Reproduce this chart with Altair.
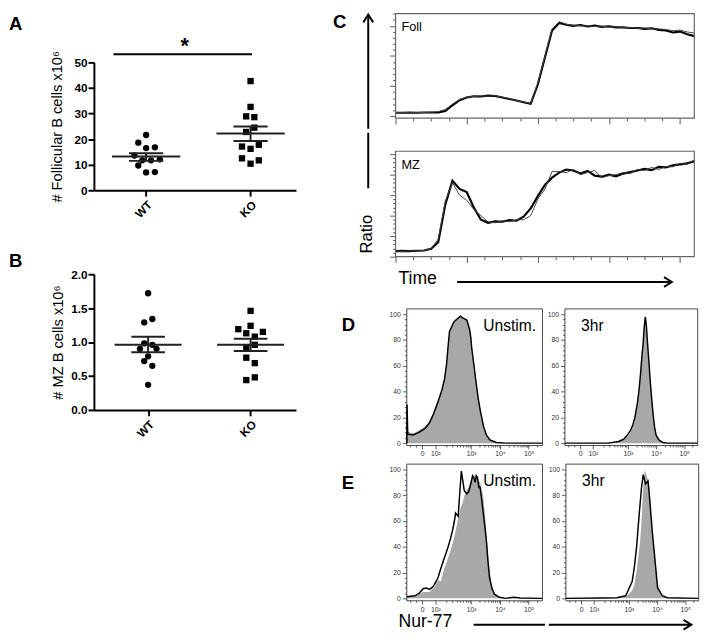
import altair as alt
import pandas as pd

FONT = "Liberation Sans"

GROUPS = ["WT", "KO"]

A_WT = [21.6, 18.6, 16.5, 16.8, 13.6, 11.7, 11.7, 12.1, 9.7, 7.0, 7.1]
A_WT_JITTER = [0, -0.075, 0, 0.084, -0.112, -0.037, 0.047, 0.131, -0.075, 0, 0.084]
A_KO = [42.7, 32.6, 28.9, 28.6, 24.5, 22.8, 17.1, 16.2, 17.8, 12.5, 10.4, 11.7]
A_KO_JITTER = [0, 0, -0.042, 0.036, 0.036, -0.042, -0.082, 0, 0.079, -0.082, 0, 0.079]
A_MEAN = [13.2, 22.2]
A_SEM_LO = [11.5, 19.3]
A_SEM_HI = [14.5, 24.9]

B_WT = [1.72, 1.29, 1.34, 0.98, 0.96, 0.90, 0.90, 0.79, 0.72, 0.65, 0.37]
B_WT_JITTER = [0, -0.038, 0.041, -0.038, 0.041, -0.08, 0.082, 0, -0.038, 0.041, 0]
B_KO = [1.46, 1.24, 1.19, 1.13, 1.15, 1.08, 0.96, 0.91, 0.77, 0.69, 0.44, 0.48]
B_KO_JITTER = [0, 0, -0.12, -0.042, 0.12, 0.041, 0.041, -0.042, -0.042, 0.041, -0.042, 0.041]
B_MEAN = [0.96, 0.96]
B_SEM_LO = [0.85, 0.87]
B_SEM_HI = [1.08, 1.05]

A_SIG = [0.687, 2.014, 53.2]
A_STAR_X = 1.37

C_TIME = [0, 2, 4, 6, 8, 10, 12, 14, 16, 18, 20, 22, 24, 26, 28, 30, 32, 34, 36, 38,
          40, 42, 44, 46, 48, 50, 52, 54, 56, 58, 60, 62, 64, 66, 68, 70, 72, 74, 76,
          78, 80, 82, 84]
FOLL_THICK = [.11, .11, .12, .11, .12, .12, .12, .17, .36, .53, .62, .66, .65, .68, .67,
              .62, .57, .52, .46, .41, 1.05, 1.95, 2.85, 3.1, 3.04, 3.0, 3.03, 2.98, 3.01,
              2.97, 2.99, 2.95, 2.95, 2.93, 2.93, 2.9, 2.92, 2.87, 2.85, 2.78, 2.81, 2.72, 2.66]
FOLL_THIN = [.12, .12, .11, .12, .12, .13, .15, .22, .40, .55, .63, .65, .67, .66, .68,
             .63, .58, .51, .47, .42, 1.1, 2.0, 2.9, 3.14, 3.06, 3.02, 3.0, 3.0, 2.98,
             2.99, 2.96, 2.97, 2.94, 2.95, 2.92, 2.93, 2.9, 2.9, 2.88, 2.84, 2.86, 2.8, 2.76]
MZ_THICK = [.27, .28, .27, .29, .30, .38, .70, 2.55, 3.7, 3.3, 3.15, 2.4, 1.8, 1.65, 1.72,
            1.7, 1.78, 1.75, 1.95, 2.35, 2.95, 3.5, 3.85, 4.1, 4.25, 4.2, 4.05, 4.18, 3.95,
            3.9, 4.0, 3.92, 4.05, 4.12, 4.2, 4.28, 4.22, 4.38, 4.35, 4.45, 4.5, 4.55, 4.65]
MZ_THIN = [.27, .27, .28, .28, .29, .40, .85, 2.7, 3.6, 3.0, 2.75, 2.3, 2.0, 1.7, 1.65,
           1.75, 1.7, 1.8, 1.8, 2.0, 2.8, 3.3, 4.15, 4.15, 4.1, 4.25, 4.0, 4.1, 4.2,
           3.85, 3.95, 4.0, 4.1, 4.05, 4.25, 4.2, 4.35, 4.25, 4.4, 4.38, 4.55, 4.5, 4.72]

D1_U = [0.77, 0.775, 0.80, 0.99, 1.2, 1.39, 1.55, 1.67, 1.85, 1.99, 2.08, 2.15, 2.2, 2.25,
        2.4, 2.55, 2.63, 2.72, 2.85, 2.95, 2.99, 3.02, 3.1, 3.16, 3.25, 3.33, 3.43, 3.53,
        3.65, 3.87, 4.2, 5.46]
D1_BLACK = [0, 30, 7, 6.3, 8.5, 11.3, 15.5, 21.3, 32, 41.5, 50, 61.6, 75, 86.7, 94, 97, 98.5,
            97, 95.5, 88, 81.6, 74, 60, 49, 34, 23.9, 13, 6.3, 2.5, 0.5, 0, 0]
D1_GRAY = [0, 28, 9, 7.5, 10, 12.5, 17, 22.5, 33, 43, 52, 63, 76, 87, 94.5, 97.5, 99, 97, 96,
           89, 83, 75, 61, 50, 35, 25, 14, 7, 3, 0.8, 0, 0]

D2_U = [0.77, 2.3, 2.67, 2.85, 3.0, 3.1, 3.17, 3.25, 3.34, 3.4, 3.45, 3.5, 3.54, 3.58, 3.62,
        3.66, 3.7, 3.75, 3.79, 3.85, 3.9, 3.95, 4.0, 4.1, 4.24, 4.4, 5.46]
D2_BLACK = [0, 0, 1.3, 3, 6.8, 10, 13.8, 20, 31.4, 42, 54, 68, 76.7, 90, 98, 90, 76.7, 62, 49,
            33, 21.3, 12, 6.3, 2.5, 0.5, 0, 0]
D2_GRAY = [0, 0, 1, 2.5, 5.5, 8.5, 12, 18, 29, 40, 52, 66, 76, 89, 97, 91, 77, 63, 50, 34, 22,
           13, 7, 3, 0.8, 0, 0]

E1_BLACK_U = [0.76, 1.05, 1.2, 1.33, 1.45, 1.56, 1.65, 1.73, 1.85, 1.95, 2.05, 2.18, 2.28,
              2.35, 2.42, 2.46, 2.55, 2.6, 2.66, 2.72, 2.76, 2.85, 2.91, 2.98, 3.05, 3.1,
              3.14, 3.18, 3.22, 3.27, 3.31, 3.37, 3.42, 3.48, 3.53, 3.58, 3.64, 3.72, 3.81,
              3.98, 4.2, 4.5, 4.7, 5.46]
E1_BLACK = [1.3, 2, 4, 7.5, 8, 7, 8.5, 10.8, 16, 23.4, 30, 38.4, 46, 52.2, 60, 66.1, 63.6, 80,
            98.7, 90, 83.7, 81, 82.4, 88, 95, 93, 90, 95, 93.7, 86, 86.2, 76, 66.1, 55, 44.7,
            30, 15.8, 8, 3.2, 0.8, 0, 0.8, 0.3, 0]
E1_GRAY_U = [0.76, 1.05, 1.33, 1.56, 1.73, 1.85, 1.95, 2.05, 2.18, 2.28, 2.35, 2.46, 2.55,
             2.63, 2.69, 2.76, 2.85, 2.91, 3.0, 3.05, 3.14, 3.22, 3.31, 3.37, 3.42, 3.48,
             3.53, 3.58, 3.64, 3.72, 3.81, 3.98, 4.2, 5.46]
E1_GRAY = [1, 1.5, 5, 5, 9, 14, 13, 22, 30, 37, 42, 52, 62, 70, 73, 79, 84, 86, 92, 94, 96, 92,
           90, 84, 79, 65, 50, 36, 22, 10, 4, 1, 0, 0]

E2_BLACK_U = [0.76, 2.0, 2.57, 2.89, 3.12, 3.2, 3.28, 3.34, 3.4, 3.45, 3.51, 3.59, 3.68, 3.72,
              3.77, 3.83, 3.9, 4.02, 4.19, 4.36, 5.46]
E2_BLACK = [0, 0.3, 0.5, 2, 13.3, 25, 41, 58, 73.6, 86, 96, 88.7, 91, 82, 68.6, 52, 36, 8.3,
            2, 0.5, 0]
E2_GRAY_U = [0.76, 2.57, 2.89, 3.12, 3.2, 3.28, 3.34, 3.4, 3.45, 3.51, 3.57, 3.63, 3.68, 3.72,
             3.77, 3.83, 3.9, 4.02, 4.19, 4.36, 5.46]
E2_GRAY = [0, 0.3, 1, 6, 11, 22, 33, 44, 60, 85, 100, 95, 92, 84, 70, 52, 35, 9, 2, 0.5, 0]

HX_MAJOR = [1.305, 1.76, 3, 4, 5]
HX_MINOR = [0.9, 1.1, 2.133, 2.352, 2.506, 2.627, 2.725, 2.808, 2.88, 2.943,
            3.301, 3.477, 3.602, 3.699, 3.778, 3.845, 3.903, 3.954,
            4.301, 4.477, 4.602, 4.699, 4.778, 4.845, 4.903, 4.954, 5.301]
HX_LABELS = ["0", "10²", "10³", "10⁴", "10⁵"]
HY_TICKS = [0, 4, 8, 12, 16, 20, 24, 28, 32, 36, 40, 44, 48, 52, 56, 60, 64, 68, 72, 76,
            80, 84, 88, 92, 96, 100]

ONE = pd.DataFrame({"k": [0]})

UP_HEAD = "M-1,1.6L0,0L1,1.6"
RIGHT_HEAD = "M-1.6,-1L0,0L-1.6,1"


def text_mark(txt, x, y, size, weight="normal", align="left", baseline="middle", angle=None):
    kw = dict(text=txt, font=FONT, fontSize=size, fontWeight=weight, align=align,
              baseline=baseline, color="black")
    if angle is not None:
        kw["angle"] = angle
    return alt.Chart(ONE).mark_text(**kw).encode(x=alt.value(x), y=alt.value(y))


def hrule(x1, x2, y, w=2):
    return alt.Chart(ONE).mark_rule(color="black", strokeWidth=w).encode(
        x=alt.value(x1), x2=alt.value(x2), y=alt.value(y))


def vrule(x, y1, y2, w=2):
    return alt.Chart(ONE).mark_rule(color="black", strokeWidth=w).encode(
        x=alt.value(x), y=alt.value(y1), y2=alt.value(y2))


def head(x, y, path):
    return alt.Chart(ONE).mark_point(shape=path, filled=False, color="black", strokeWidth=2,
                                     size=100, opacity=1).encode(x=alt.value(x), y=alt.value(y))


def tile(l, t, r, b):
    # invisible frame fixing the layout extent of a panel
    return alt.Chart(ONE).mark_rect(opacity=0).encode(
        x=alt.value(l), x2=alt.value(r), y=alt.value(t), y2=alt.value(b))


def frame_box(l, t, r, b, color, w):
    return alt.Chart(ONE).mark_rect(fillOpacity=0, stroke=color, strokeWidth=w).encode(
        x=alt.value(l), x2=alt.value(r), y=alt.value(t), y2=alt.value(b))


def dot_panel(wt, wt_j, ko, ko_j, mean, lo, hi, xdom, ydom, yrange, yvals, yfmt, ytitle, tpad,
              letter, letter_y, height, frame, sig=None):
    pts = pd.DataFrame({
        "group": ["WT"] * len(wt) + ["KO"] * len(ko),
        "pos": [1 + j for j in wt_j] + [2 + j for j in ko_j],
        "value": wt + ko,
    })
    stats = pd.DataFrame({"group": GROUPS, "pos": [1, 2], "mean": mean, "lo": lo, "hi": hi})
    sx = alt.Scale(domain=xdom, nice=False, zero=False)
    sy = alt.Scale(domain=ydom, range=yrange, nice=False, zero=False)
    xaxis = alt.Axis(values=[1, 2], labelExpr="datum.value == 1 ? 'WT' : 'KO'", labelAngle=-45,
                     title=None, grid=False, domainColor="black", domainWidth=2,
                     tickColor="black", tickWidth=2, tickSize=6, labelFont=FONT,
                     labelFontWeight="bold", labelFontSize=12, labelColor="black",
                     labelPadding=3)
    yaxis = alt.Axis(values=yvals, format=yfmt, title=ytitle, grid=False, domainColor="black",
                     domainWidth=2, tickColor="black", tickWidth=2, tickSize=6,
                     labelFont=FONT, labelFontWeight="bold", labelFontSize=12,
                     labelColor="black", labelPadding=1, titleFont=FONT, titleFontSize=15,
                     titleFontWeight="normal", titleColor="black", titlePadding=tpad)
    points = alt.Chart(pts).mark_point(filled=True, size=42, opacity=1, color="black").encode(
        x=alt.X("pos:Q", scale=sx, axis=xaxis),
        y=alt.Y("value:Q", scale=sy, axis=yaxis),
        shape=alt.Shape("group:N", scale=alt.Scale(domain=GROUPS, range=["circle", "square"]),
                        legend=None),
    )
    base = alt.Chart(stats).transform_calculate(
        ml="datum.pos - 0.327", mr="datum.pos + 0.327",
        sl="datum.pos - 0.164", sr="datum.pos + 0.164")

    def enc_rule(xf, x2f, yf, y2f=None):
        e = dict(x=alt.X(xf, scale=sx, axis=xaxis, title=None),
                 y=alt.Y(yf, scale=sy, axis=yaxis, title=ytitle))
        if x2f:
            e["x2"] = x2f
        if y2f:
            e["y2"] = y2f
        return base.mark_rule(color="#222", strokeWidth=2).encode(**e)
    layers = [points,
              enc_rule("ml:Q", "mr:Q", "mean:Q"),
              enc_rule("sl:Q", "sr:Q", "hi:Q"),
              enc_rule("sl:Q", "sr:Q", "lo:Q"),
              enc_rule("pos:Q", None, "lo:Q", "hi:Q")]
    if sig is not None:
        sdf = pd.DataFrame({"x1": [sig[0]], "x2": [sig[1]], "y": [sig[2]], "xs": [A_STAR_X]})
        layers.append(alt.Chart(sdf).mark_rule(color="black", strokeWidth=2).encode(
            x=alt.X("x1:Q", scale=sx, axis=xaxis, title=None), x2="x2:Q",
            y=alt.Y("y:Q", scale=sy, axis=yaxis, title=ytitle)))
        layers.append(alt.Chart(sdf).mark_text(text="*", font=FONT, fontSize=22,
                                               fontWeight="bold", baseline="alphabetic",
                                               dy=-1, color="black").encode(
            x=alt.X("xs:Q", scale=sx, axis=xaxis, title=None),
            y=alt.Y("y:Q", scale=sy, axis=yaxis, title=ytitle)))
    layers.append(text_mark(letter, -87, letter_y, 19, weight="bold"))
    layers.append(tile(*frame))
    return alt.layer(*layers).properties(width=207, height=height)


C_LEFT = -11   # the C frame starts 11 px left of the D/E panels
C_W = 295


def c_panel(thick, thin, ydom, yvals, label, height, frame, extras):
    df = pd.DataFrame({"t": C_TIME, "thick": thick, "thin": thin})
    sx = alt.Scale(domain=[0, 84], range=[C_LEFT, C_W], nice=False, zero=False)
    sy = alt.Scale(domain=ydom, nice=False, zero=False)
    xaxis = alt.Axis(values=list(range(0, 85, 5)), labels=False, title=None, grid=False,
                     domain=False, tickColor="#555", tickWidth=1,
                     tickSize={"condition": {"test": "datum.value % 20 === 0", "value": 6},
                               "value": 3})
    yaxis = alt.Axis(values=yvals, labels=False, title=None, grid=False, domain=False,
                     tickColor="#555", tickWidth=1, offset=-C_LEFT,
                     tickSize={"condition": {"test": "abs(datum.value - round(datum.value)) < 0.01",
                                             "value": 6}, "value": 3})
    l1 = alt.Chart(df).mark_line(color="black", strokeWidth=2.2).encode(
        x=alt.X("t:Q", scale=sx, axis=xaxis), y=alt.Y("thick:Q", scale=sy, axis=yaxis))
    l2 = alt.Chart(df).mark_line(color="#444", strokeWidth=1).encode(
        x=alt.X("t:Q", scale=sx, axis=xaxis), y=alt.Y("thin:Q", scale=sy, axis=yaxis))
    lab = text_mark(label, C_LEFT + 6, 18, 13, baseline="alphabetic")
    box = frame_box(C_LEFT, 0, C_W, height, "#666", 1.2)
    return alt.layer(l1, l2, box, lab, *extras, tile(*frame)).properties(
        width=C_W, height=height)


def hist_panel(bu, bv, gu, gv, width, frame, extras):
    black = pd.DataFrame({"u": bu, "v": bv})
    gray = pd.DataFrame({"u": gu, "v": gv})
    sx = alt.Scale(domain=[0.75, 5.46], nice=False, zero=False)
    sy = alt.Scale(domain=[-1.5, 104.5], nice=False, zero=False)
    major_test = ("datum.value === 1.305 || datum.value === 1.76 || datum.value === 3 || "
                  "datum.value === 4 || datum.value === 5")
    label_expr = ("datum.value === 1.305 ? '%s' : datum.value === 1.76 ? '%s' : "
                  "datum.value === 3 ? '%s' : datum.value === 4 ? '%s' : "
                  "datum.value === 5 ? '%s' : ''") % tuple(HX_LABELS)
    xaxis = alt.Axis(values=HX_MAJOR + HX_MINOR, labelExpr=label_expr, title=None, grid=False,
                     domain=False, tickColor="#333", tickWidth=0.8,
                     tickSize={"condition": {"test": major_test, "value": 4}, "value": 2},
                     labelFont=FONT, labelFontSize=7, labelColor="#333", labelPadding=1,
                     labelOverlap=False, labelFlush=False)
    yaxis = alt.Axis(values=HY_TICKS, labelExpr="datum.value % 20 === 0 ? datum.label : ''",
                     title=None, grid=False, domain=False, tickColor="#333", tickWidth=0.8,
                     tickSize={"condition": {"test": "datum.value % 20 === 0", "value": 4},
                               "value": 2},
                     labelFont=FONT, labelFontSize=7, labelColor="#333", labelPadding=2,
                     labelOverlap=False)
    area = alt.Chart(gray).mark_area(color="#a8a8a8", opacity=1).encode(
        x=alt.X("u:Q", scale=sx, axis=xaxis), y=alt.Y("v:Q", scale=sy, axis=yaxis))
    line = alt.Chart(black).mark_line(color="black", strokeWidth=1.5).encode(
        x=alt.X("u:Q", scale=sx, axis=xaxis), y=alt.Y("v:Q", scale=sy, axis=yaxis))
    return alt.layer(area, line, *extras, tile(*frame)).properties(
        width=width, height=140, view=alt.ViewBackground(stroke="#444", strokeWidth=1))


# ---------------- assemble ----------------
panel_a = dot_panel(A_WT, A_WT_JITTER, A_KO, A_KO_JITTER, A_MEAN, A_SEM_LO, A_SEM_HI,
                    [0.5, 2.435], [0, 50], [181, 50], [0, 10, 20, 30, 40, 50], "d",
                    "# Follicular B cells x10⁶", 10, "A", 11, 181,
                    (-87, -2, 228, 222), sig=A_SIG)
panel_b = dot_panel(B_WT, B_WT_JITTER, B_KO, B_KO_JITTER, B_MEAN, B_SEM_LO, B_SEM_HI,
                    [0.471, 2.443], [0, 2], [139, 0], [0, 0.5, 1.0, 1.5, 2.0], ".1f",
                    "# MZ B cells x10⁶", 5, "B", -13, 139, (-87, -43, 228, 358))

c_top_ticks = [round(i * 0.2, 1) for i in range(18)]
c_bot_ticks = [round(i * 0.2, 1) for i in range(26)]

c1 = c_panel(FOLL_THICK, FOLL_THIN, [-0.065, 3.41], c_top_ticks, "Foll", 107,
             (-90, -2, 296, 118), [
                 text_mark("C", -75, 9, 19, weight="bold"),
                 vrule(-39, 118, 1),
                 head(-39, 1, UP_HEAD),
             ])
c2 = c_panel(MZ_THICK, MZ_THIN, [0, 5.14], c_bot_ticks, "MZ", 108,
             (-90, -19, 296, 149), [
                 vrule(-39, 38, -19),
                 text_mark("Ratio", -40, 85, 17, align="center", angle=270),
                 text_mark("Time", -8, 136, 18, baseline="alphabetic"),
                 hrule(52, 272, 134),
                 head(272, 134, RIGHT_HEAD),
             ])

d1 = hist_panel(D1_U, D1_BLACK, D1_U, D1_GRAY, 139, (-90, -10, 142, 156), [
    text_mark("Unstim.", 133, 23, 16, align="right", baseline="alphabetic"),
    text_mark("D", -66, 17, 19, weight="bold"),
])
d2 = hist_panel(D2_U, D2_BLACK, D2_U, D2_GRAY, 136, (-17, -10, 137, 156), [
    text_mark("3hr", 17, 23, 16, baseline="alphabetic"),
])
e1 = hist_panel(E1_BLACK_U, E1_BLACK, E1_GRAY_U, E1_GRAY, 139, (-90, -1, 142, 170), [
    text_mark("Unstim.", 133, 23, 16, align="right", baseline="alphabetic"),
    text_mark("E", -66, 20, 19, weight="bold"),
    text_mark("Nur-77", -8, 167, 18, baseline="alphabetic"),
    hrule(69, 142, 165),
])
e2 = hist_panel(E2_BLACK_U, E2_BLACK, E2_GRAY_U, E2_GRAY, 136, (-17, -1, 137, 170), [
    text_mark("3hr", 17, 23, 16, baseline="alphabetic"),
    hrule(-17, 129, 165),
    head(129, 165, RIGHT_HEAD),
])

left = alt.vconcat(panel_a, panel_b, spacing=0)
right = alt.vconcat(c1, c2,
                    alt.hconcat(d1, d2, spacing=0),
                    alt.hconcat(e1, e2, spacing=0),
                    spacing=0)

chart = alt.hconcat(left, right, spacing=0).properties(
    padding={"left": 0, "top": -6, "right": 0, "bottom": 0}
).configure(font=FONT).configure_view(stroke="transparent")

chart.save("out.html", embed_options={"renderer": "svg", "actions": False})
